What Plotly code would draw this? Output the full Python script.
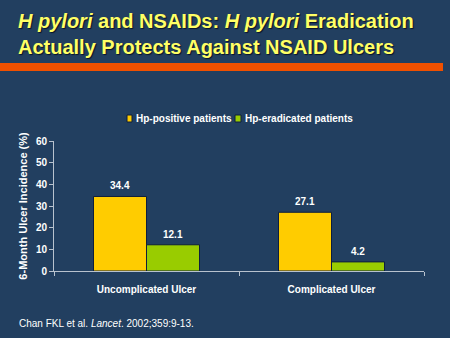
import plotly.graph_objects as go

# Data
categories = ["Uncomplicated Ulcer", "Complicated Ulcer"]
series_names = ["Hp-positive patients", "Hp-eradicated patients"]
hp_positive = [34.4, 27.1]
hp_eradicated = [12.1, 4.2]
y_ticks = [0, 10, 20, 30, 40, 50, 60]

BG = "#223F60"
COLORS = ["#FFCC00", "#99CC00"]
OUTLINE = "#0E1E3C"
AXIS = "#B8C2CE"
FONT = "Liberation Sans, Arial, sans-serif"

# Plot area geometry (pixels)
L, R, T, B = 54, 26, 141, 67
W, H = 450, 338
PW, PH = W - L - R, H - T - B


def px(x):
    return (x - L) / PW


def py(y):
    return (H - B - y) / PH


fig = go.Figure()
series = [hp_positive, hp_eradicated]
for name, vals, col in zip(series_names, series, COLORS):
    fig.add_trace(go.Bar(
        x=categories, y=vals, name=name,
        marker=dict(color=col, line=dict(color=OUTLINE, width=1)),
        showlegend=False,
    ))

# Value labels above each bar
bar_w = 53
for i, vals in enumerate(series):
    for cat, v in zip(categories, vals):
        fig.add_annotation(
            x=cat, y=v, xref="x", yref="y", text=f"{v:.1f}",
            showarrow=False, yanchor="bottom", xanchor="center",
            xshift=(i - 0.5) * bar_w, yshift=3,
            font=dict(family=FONT, size=10, color="white", weight="bold"),
        )

# Legend: small squares with labels
legend_sq = [(127, 132), (235, 241)]
legend_tx = [134, 243]
for (x0, x1), tx, name, col in zip(legend_sq, legend_tx, series_names, COLORS):
    fig.add_shape(type="rect", xref="paper", yref="paper",
                  x0=px(x0), x1=px(x1), y0=py(122), y1=py(115),
                  fillcolor=col, line=dict(color=OUTLINE, width=1))
    fig.add_annotation(x=px(tx), y=py(118.5), xref="paper", yref="paper",
                       text=name, showarrow=False, xanchor="left", yanchor="middle",
                       font=dict(family=FONT, size=10, color="white", weight="bold"))

# Title and orange rule
fig.add_annotation(
    x=px(16), y=py(8), xref="paper", yref="paper", align="left",
    text="<i>H pylori</i> and NSAIDs: <i>H pylori</i> Eradication<br>Actually Protects Against NSAID Ulcers",
    showarrow=False, xanchor="left", yanchor="top",
    font=dict(family=FONT, size=20, color="#FFFF66", weight="bold",
              shadow="1px 1px 1px #0A1428"),
)
fig.add_shape(type="rect", xref="paper", yref="paper",
              x0=px(0), x1=px(443), y0=py(71), y1=py(63),
              fillcolor="#F05000", line=dict(width=0))

# Citation
fig.add_annotation(
    x=px(17), y=py(323), xref="paper", yref="paper",
    text="Chan FKL et al. <i>Lancet</i>. 2002;359:9-13.",
    showarrow=False, xanchor="left", yanchor="middle",
    font=dict(family=FONT, size=10, color="white"),
)

fig.update_layout(
    width=W, height=H,
    margin=dict(l=L, r=R, t=T, b=B),
    paper_bgcolor=BG, plot_bgcolor=BG,
    barmode="group", bargap=0.427, bargroupgap=0,
    font=dict(family=FONT, color="white"),
    xaxis=dict(
        showline=True, linecolor=AXIS, linewidth=1,
        ticks="outside", tickson="boundaries", ticklen=4, tickcolor=AXIS,
        ticklabelstandoff=9,
        tickfont=dict(family=FONT, size=10, color="white", weight="bold"),
        showgrid=False, zeroline=False,
    ),
    yaxis=dict(
        range=[0, 60], tickvals=y_ticks,
        showline=True, linecolor=AXIS, linewidth=1,
        ticks="outside", ticklen=4, tickcolor=AXIS,
        tickfont=dict(family=FONT, size=10, color="white", weight="bold"),
        showgrid=False, zeroline=False,
        title=dict(text="6-Month Ulcer Incidence (%)", standoff=6,
                   font=dict(family=FONT, size=11, color="white", weight="bold")),
    ),
)

fig.write_html("out.html")
